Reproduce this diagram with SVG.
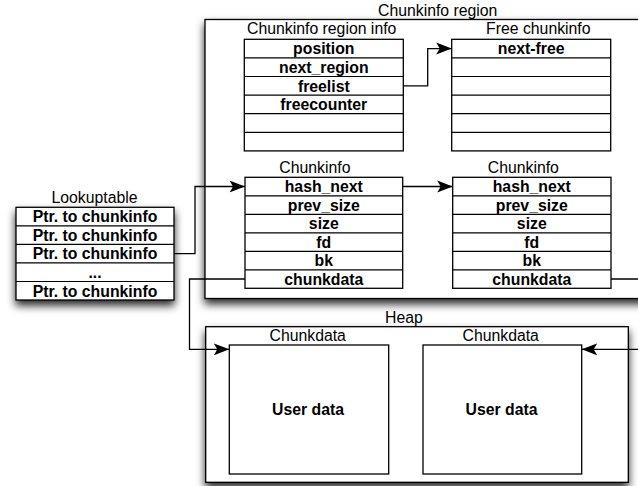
<svg xmlns="http://www.w3.org/2000/svg" width="638" height="486" viewBox="0 0 638 486">
<defs>
<filter id="sh" x="-10%" y="-10%" width="120%" height="130%">
<feDropShadow dx="0" dy="5" stdDeviation="4" flood-color="#000" flood-opacity="0.85"/>
</filter>
<marker id="ah" viewBox="0 0 16 13" refX="15.5" refY="6.5" markerWidth="16" markerHeight="13" markerUnits="userSpaceOnUse" orient="auto">
<path d="M0,0.5 L15.5,6.5 L0,12.5 L3.5,6.5 Z" fill="#000"/>
</marker>
<style>
.box{fill:#fff;stroke:#000;stroke-width:1.3}
.ln{stroke:#000;stroke-width:1.2;fill:none}
.t{font-family:"Liberation Sans",Arial,sans-serif;font-size:15.8px;text-anchor:middle;fill:#000}
.b{font-weight:bold}
.c{stroke:#000;stroke-width:1.3;fill:none;marker-end:url(#ah)}
</style>
</defs>
<rect width="638" height="486" fill="#fff"/>

<g id="chunkinfo-region">
<rect class="box" x="205" y="19.5" width="450" height="279" filter="url(#sh)"/>
<text class="t" x="437.7" y="16">Chunkinfo region</text>
</g>

<g id="region-info">
<text class="t" x="321.7" y="34">Chunkinfo region info</text>
<rect class="box" x="244.3" y="39.3" width="159" height="111.6"/>
<path class="ln" d="M244.3,57.9H403.3M244.3,76.5H403.3M244.3,95.1H403.3M244.3,113.7H403.3M244.3,132.3H403.3"/>
<text class="t b" x="323.8" y="54.3">position</text>
<text class="t b" x="323.8" y="72.9">next_region</text>
<text class="t b" x="323.8" y="91.5">freelist</text>
<text class="t b" x="323.8" y="110.1">freecounter</text>
</g>

<g id="free-chunkinfo">
<text class="t" x="538.3" y="34">Free chunkinfo</text>
<rect class="box" x="451.7" y="39.3" width="159" height="111.6"/>
<path class="ln" d="M451.7,57.9H610.7M451.7,76.5H610.7M451.7,95.1H610.7M451.7,113.7H610.7M451.7,132.3H610.7"/>
<text class="t b" x="531.2" y="54.3">next-free</text>
</g>

<g id="chunkinfo-1">
<text class="t" x="314.9" y="172.5">Chunkinfo</text>
<rect class="box" x="245" y="177.3" width="157.7" height="111"/>
<path class="ln" d="M245,195.8H402.7M245,214.3H402.7M245,232.8H402.7M245,251.3H402.7M245,269.8H402.7"/>
<text class="t b" x="323.8" y="192.3">hash_next</text>
<text class="t b" x="323.8" y="210.8">prev_size</text>
<text class="t b" x="323.8" y="229.3">size</text>
<text class="t b" x="323.8" y="247.8">fd</text>
<text class="t b" x="323.8" y="266.3">bk</text>
<text class="t b" x="323.8" y="284.8">chunkdata</text>
</g>

<g id="chunkinfo-2">
<text class="t" x="523.3" y="172.5">Chunkinfo</text>
<rect class="box" x="452.7" y="177.3" width="158.3" height="111"/>
<path class="ln" d="M452.7,195.8H611M452.7,214.3H611M452.7,232.8H611M452.7,251.3H611M452.7,269.8H611"/>
<text class="t b" x="531.8" y="192.3">hash_next</text>
<text class="t b" x="531.8" y="210.8">prev_size</text>
<text class="t b" x="531.8" y="229.3">size</text>
<text class="t b" x="531.8" y="247.8">fd</text>
<text class="t b" x="531.8" y="266.3">bk</text>
<text class="t b" x="531.8" y="284.8">chunkdata</text>
</g>

<g id="lookuptable">
<text class="t" x="94.5" y="203.3">Lookuptable</text>
<rect class="box" x="16" y="207.3" width="158" height="92.7" filter="url(#sh)"/>
<path class="ln" d="M16,225.8H174M16,244.4H174M16,262.9H174M16,281.5H174"/>
<text class="t b" x="95" y="222.3">Ptr. to chunkinfo</text>
<text class="t b" x="95" y="240.8">Ptr. to chunkinfo</text>
<text class="t b" x="95" y="259.4">Ptr. to chunkinfo</text>
<text class="t b" x="95" y="277.9">...</text>
<text class="t b" x="95" y="296.5">Ptr. to chunkinfo</text>
</g>

<g id="heap">
<rect class="box" x="205.7" y="326.7" width="422.6" height="155.6" filter="url(#sh)"/>
<text class="t" x="404" y="322.5">Heap</text>
</g>

<g id="chunkdata-1">
<text class="t" x="307.7" y="340.5">Chunkdata</text>
<rect class="box" x="229.3" y="345" width="159.4" height="129"/>
<text class="t b" x="308" y="414.5">User data</text>
</g>

<g id="chunkdata-2">
<text class="t" x="500.7" y="340.5">Chunkdata</text>
<rect class="box" x="423" y="345" width="158.7" height="129"/>
<text class="t b" x="501.5" y="414.5">User data</text>
</g>

<g id="connectors">
<path class="c" d="M403.3,85.8H427.7V48.6H451.7"/>
<path class="c" d="M174,253.7H195V186.5H245"/>
<path class="c" d="M402.7,186.5H452.7"/>
<path class="c" d="M245,279H189.5V349.3H229.3"/>
<path class="c" d="M611,279H650V349.3H581.7"/>
</g>
</svg>
